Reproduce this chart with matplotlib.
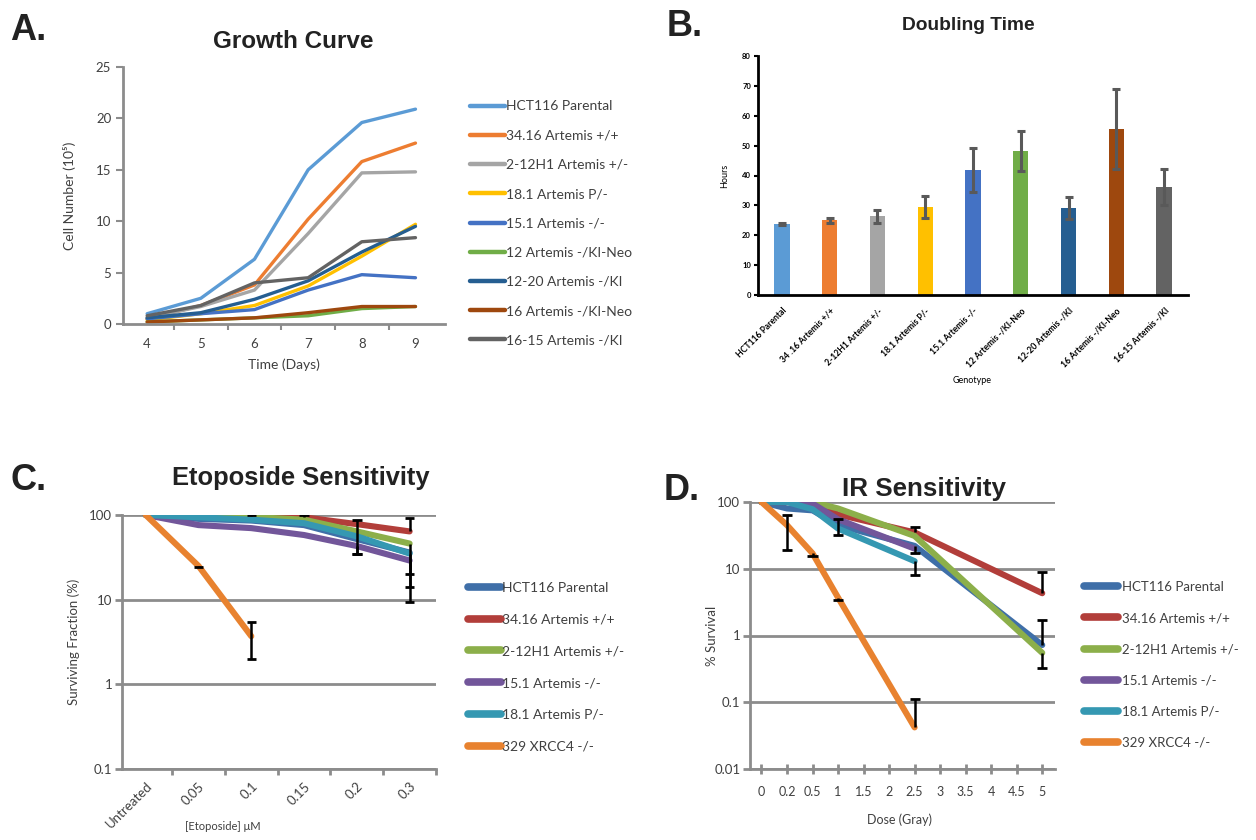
import numpy as np
import matplotlib
matplotlib.use("Agg")
import matplotlib.pyplot as plt
from matplotlib.ticker import FixedLocator, NullLocator, FixedFormatter

plt.rcParams['font.family'] = ['Lato', 'DejaVu Sans']

# ---- panel A: growth curve ----
days = [4, 5, 6, 7, 8, 9]
growth_names = ['HCT116 Parental', '34.16 Artemis +/+', '2-12H1 Artemis +/-', '18.1 Artemis P/-',
                '15.1 Artemis -/-', '12 Artemis -/KI-Neo', '12-20 Artemis -/KI', '16 Artemis -/KI-Neo',
                '16-15 Artemis -/KI']
growth_vals = [
    [1.0, 2.5, 6.3, 15.0, 19.6, 20.9],
    [0.5, 1.8, 3.8, 10.2, 15.8, 17.6],
    [0.6, 1.7, 3.3, 8.8, 14.7, 14.8],
    [0.4, 1.0, 1.8, 3.7, 6.6, 9.7],
    [0.5, 1.0, 1.4, 3.3, 4.8, 4.5],
    [0.2, 0.4, 0.6, 0.8, 1.5, 1.7],
    [0.6, 1.1, 2.4, 4.2, 7.0, 9.5],
    [0.2, 0.4, 0.6, 1.1, 1.7, 1.7],
    [0.8, 1.8, 4.0, 4.5, 8.0, 8.4],
]
growth_colors = ['#5B9BD5', '#ED7D31', '#A5A5A5', '#FFC000', '#4472C4', '#70AD47', '#255E91', '#9E480E', '#636363']

# ---- panel B: doubling time ----
dt_labels = ['HCT116 Parental', '34 .16 Artemis +/+', '2-12H1 Artemis +/-', '18.1 Artemis P/-', '15.1 Artemis -/-',
             '12 Artemis -/KI-Neo', '12-20 Artemis -/KI', '16 Artemis -/KI-Neo', '16-15 Artemis -/KI']
dt_hours = [23.8, 25.0, 26.4, 29.4, 41.8, 48.2, 29.1, 55.6, 36.2]
dt_err = [0.3, 0.9, 2.2, 3.6, 7.3, 6.7, 3.6, 13.4, 6.0]

# ---- panel C: etoposide ----
eto_labels = ['Untreated', '0.05', '0.1', '0.15', '0.2', '0.3']
sens_names = ['HCT116 Parental', '34.16 Artemis +/+', '2-12H1 Artemis +/-', '15.1 Artemis -/-',
              '18.1 Artemis P/-', '329 XRCC4 -/-']
sens_colors = ['#3F6FA8', '#B23E3A', '#8CAF4A', '#72569A', '#3598B2', '#E8822F']
eto_vals = [
    [100, 90, 86, 76, 52, 36],
    [100, 100, 97, 94, 78, 64],
    [100, 99, 95, 88, 64, 46],
    [100, 76, 70, 58, 43, 29],
    [100, 94, 88, 80, 56, 35],
    [100, 25, 3.7, np.nan, np.nan, np.nan],
]
eto_lo = [
    [0, 0, 0, 0, 17, 0],
    [0, 0, 0, 0, 0, 0],
    [0, 0, 0, 0, 0, 26],
    [0, 0, 0, 0, 8, 15],
    [0, 0, 0, 0, 0, 25.5],
    [0, 1, 1.7, 0, 0, 0],
]
eto_hi = [
    [0, 0, 0, 0, 35, 0],
    [0, 0, 3, 6, 0, 28],
    [0, 0, 0, 0, 0, 0],
    [0, 0, 0, 0, 0, 0],
    [0, 0, 0, 0, 0, 0],
    [0, 0, 1.7, 0, 0, 0],
]

# ---- panel D: IR ----
ir_labels = ['0', '0.2', '0.5', '1', '1.5', '2', '2.5', '3', '3.5', '4', '4.5', '5']
ir_doses = ['0', '0.2', '0.5', '1', '2.5', '5']
ir_vals = [
    [100, 80, 75, 45, 22, 0.72],
    [100, 100, 100, 65, 35, 4.3],
    [100, 100, 100, 80, 31, 0.55],
    [100, 100, 95, 55, 20, np.nan],
    [100, 100, 78, 40, 13, np.nan],
    [100, 45, 17, 3.7, 0.042, np.nan],
]
ir_lo = [
    [0, 0, 0, 13, 5, 0],
    [0, 0, 0, 0, 0, 0],
    [0, 0, 0, 0, 0, 0.22],
    [0, 0, 0, 0, 0, 0],
    [0, 0, 0, 0, 4.8, 0],
    [0, 26, 1.5, 0.3, 0, 0],
]
ir_hi = [
    [0, 0, 0, 11, 0, 1.0],
    [0, 0, 0, 0, 7, 4.5],
    [0, 0, 0, 0, 0, 0],
    [0, 0, 0, 0, 0, 0],
    [0, 0, 0, 0, 0, 0],
    [0, 18, 0, 0, 0.068, 0],
]

W, H = 1256, 840
fig = plt.figure(figsize=(W / 100, H / 100), dpi=100)


def box(l, t, r, b):
    return [l / W, 1 - b / H, (r - l) / W, (b - t) / H]


grey = '#8C8C8C'
txt = '#404040'


def panel_title(x, y, s, size):
    fig.text(x / W, 1 - y / H, s, fontsize=size, fontweight='bold', ha='center', va='center',
             family='Liberation Sans', color='#222222')


def panel_letter(x, y, s):
    fig.text(x / W, 1 - y / H, s, fontsize=26, fontweight='bold', ha='left', va='center',
             family='Liberation Sans', color='#222222')


def errbars(ax, xs, vals, lo, hi, cap=0.09):
    # excel style: only draw the directions that have a value
    for x, v, l, h in zip(xs, vals, lo, hi):
        if np.isnan(v) or (l == 0 and h == 0):
            continue
        ax.vlines(x, v - l, v + h, color='black', lw=1.8, zorder=4)
        if l > 0:
            ax.hlines(v - l, x - cap, x + cap, color='black', lw=2, zorder=4)
        if h > 0:
            ax.hlines(v + h, x - cap, x + cap, color='black', lw=2, zorder=4)


# ---------------- A ----------------
ax = fig.add_axes(box(123, 67, 445, 324))
for name, vals, c in zip(growth_names, growth_vals, growth_colors):
    ax.plot(days, vals, color=c, lw=2.4, label=name, solid_capstyle='round')
ax.set_xlim(3.55, 9.55)
ax.set_ylim(0, 25)
ax.set_yticks([0, 5, 10, 15, 20, 25])
ax.xaxis.set_major_locator(FixedLocator(days))
ax.xaxis.set_minor_locator(FixedLocator([4.5, 5.5, 6.5, 7.5, 8.5]))
ax.tick_params(axis='x', which='major', length=0, labelsize=9.5, labelcolor=txt, pad=10)
ax.tick_params(axis='x', which='minor', length=4, color=grey, width=1.5)
ax.tick_params(axis='y', length=5, color=grey, width=1.5, labelsize=9.5, labelcolor=txt)
for s in ['top', 'right']:
    ax.spines[s].set_visible(False)
for s in ['left', 'bottom']:
    ax.spines[s].set_color(grey)
    ax.spines[s].set_linewidth(2)
ax.set_xlabel('Time (Days)', fontsize=10, color=txt, labelpad=6)
ax.set_ylabel('Cell Number (10⁵)', fontsize=10, color=txt)
ax.yaxis.set_label_coords(-0.146, 0.5)
leg = ax.legend(loc='upper left', bbox_to_anchor=(458 / W, 1 - 88 / H), bbox_transform=fig.transFigure,
                frameon=False, fontsize=10, handlelength=2.5, handletextpad=0.05, labelspacing=1.24,
                labelcolor=txt)
for ln in leg.get_lines():
    ln.set_linewidth(3.2)
panel_title(293, 42, 'Growth Curve', 17.5)
panel_letter(10, 31, 'A.')

# ---------------- B ----------------
ax = fig.add_axes(box(758, 56, 1188, 295))
xb = np.arange(len(dt_labels))
ax.bar(xb, dt_hours, width=0.32, color=growth_colors, zorder=2)
ax.errorbar(xb, dt_hours, yerr=dt_err, fmt='none', ecolor='#595959', elinewidth=2.2, capsize=3,
            capthick=2.2, zorder=3)
ax.set_xlim(-0.5, 8.5)
ax.set_ylim(0, 80)
ax.set_yticks(range(0, 81, 10))
ax.set_xticks(xb)
ax.set_xticklabels(dt_labels, rotation=45, ha='right', rotation_mode='anchor', fontsize=6.2,
                   fontweight='bold')
ax.tick_params(axis='x', length=0, pad=8)
ax.tick_params(axis='y', length=3, width=1.5, labelsize=5.5, pad=2)
for lab in ax.get_yticklabels():
    lab.set_fontweight('bold')
for s in ['top', 'right']:
    ax.spines[s].set_visible(False)
for s in ['left', 'bottom']:
    ax.spines[s].set_linewidth(2)
ax.set_ylabel('Hours', fontsize=6.5, labelpad=9)
ax.set_xlabel('Genotype', fontsize=6.5)
ax.xaxis.set_label_coords(0.498, -0.34)
panel_title(968, 26, 'Doubling Time', 13.8)
panel_letter(667, 27, 'B.')


def sens_axes(ax, labels, ylo, ylab, rotate):
    ax.set_yscale('log')
    ax.set_ylim(ylo, 100)
    decades = [10.0 ** k for k in range(int(round(np.log10(ylo))), 3)]
    ax.yaxis.set_major_locator(FixedLocator(decades))
    ax.yaxis.set_major_formatter(FixedFormatter([('%g' % d) for d in decades]))
    ax.yaxis.set_minor_locator(NullLocator())
    ax.grid(axis='y', color=grey, lw=2, zorder=0)
    ax.set_axisbelow(True)
    for s in ['top', 'right']:
        ax.spines[s].set_visible(False)
    for s in ['left', 'bottom']:
        ax.spines[s].set_color(grey)
        ax.spines[s].set_linewidth(2)
    ax.tick_params(axis='y', length=5, color=grey, width=2, labelsize=9.5, labelcolor=txt, pad=2)
    n = len(labels)
    ax.set_xlim(-0.45, n - 0.5)
    ax.xaxis.set_major_locator(FixedLocator(range(n)))
    if rotate:
        ax.set_xticklabels(labels, rotation=45, ha='right', rotation_mode='anchor', fontsize=9.5,
                           color=txt)
        ax.xaxis.set_minor_locator(FixedLocator(np.arange(-0.5, n, 1.0)))
        ax.tick_params(axis='x', which='major', length=0, pad=8)
        ax.tick_params(axis='x', which='minor', length=4, color=grey, width=2)
    else:
        ax.set_xticklabels(labels, fontsize=9, color=txt)
        ax.tick_params(axis='x', which='major', length=7, direction='inout', color=grey, width=2, pad=9)
    ax.set_ylabel(ylab, fontsize=9.5, color=txt)


# ---------------- C ----------------
ax = fig.add_axes(box(122, 515, 436, 769))
xc = np.arange(len(eto_labels))
for name, vals, c in zip(sens_names, eto_vals, sens_colors):
    ax.plot(xc, vals, color=c, lw=4.4, label=name, solid_capstyle='round', zorder=3)
for vals, lo, hi in zip(eto_vals, eto_lo, eto_hi):
    errbars(ax, xc, vals, lo, hi)
sens_axes(ax, eto_labels, 0.1, 'Surviving Fraction (%)', True)
ax.yaxis.set_label_coords(-0.135, 0.5)
ax.set_xlabel('[Etoposide] μM', fontsize=8, color=txt)
ax.xaxis.set_label_coords(0.32, -0.205)
leg = ax.legend(loc='upper left', bbox_to_anchor=(455 / W, 1 - 569 / H), bbox_transform=fig.transFigure,
                frameon=False, fontsize=10, handlelength=2.4, handletextpad=0.1, labelspacing=1.43,
                labelcolor=txt)
for ln in leg.get_lines():
    ln.set_linewidth(5.5)
panel_title(301, 478, 'Etoposide Sensitivity', 18.4)
panel_letter(11, 481, 'C.')

# ---------------- D ----------------
ax = fig.add_axes(box(750, 502, 1055, 769))
xd = [ir_labels.index(d) for d in ir_doses]
for name, vals, c in zip(sens_names, ir_vals, sens_colors):
    v = np.array(vals, dtype=float)
    ok = ~np.isnan(v)
    ax.plot(np.array(xd)[ok], v[ok], color=c, lw=4.4, label=name, solid_capstyle='round', zorder=3)
for vals, lo, hi in zip(ir_vals, ir_lo, ir_hi):
    errbars(ax, xd, vals, lo, hi, cap=0.2)
sens_axes(ax, ir_labels, 0.01, '% Survival', False)
ax.yaxis.set_label_coords(-0.105, 0.5)
ax.set_xlabel('Dose (Gray)', fontsize=9, color=txt)
ax.xaxis.set_label_coords(0.49, -0.165)
leg = ax.legend(loc='upper left', bbox_to_anchor=(1072 / W, 1 - 569 / H), bbox_transform=fig.transFigure,
                frameon=False, fontsize=9.5, handlelength=2.6, handletextpad=0.3, labelspacing=1.45,
                labelcolor=txt)
for ln in leg.get_lines():
    ln.set_linewidth(5.5)
panel_title(924, 489, 'IR Sensitivity', 18.7)
panel_letter(664, 491, 'D.')

fig.savefig('out.png', dpi=100, facecolor='white')
